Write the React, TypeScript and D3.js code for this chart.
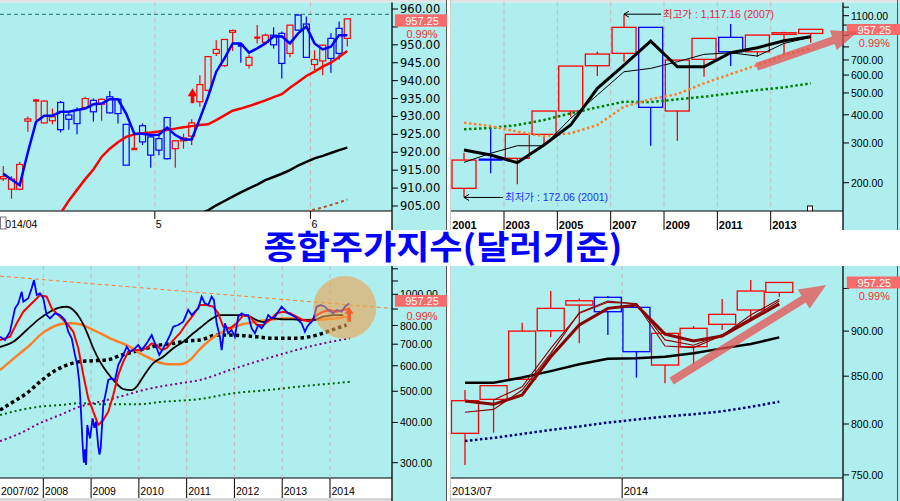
import React from 'react';
import * as d3 from 'd3';

const BG = '#afeeee';
const UP = '#ff0000';
const DN = '#0000ff';
const GRID = '#d0b2b2';
const FONT = "'Liberation Sans', Arial, sans-serif";
const WIDE = "'DejaVu Sans', Verdana, sans-serif";
const KFONT = "'Noto Sans CJK KR', 'Noto Sans', sans-serif";

// ---------- Panel A : daily 2014/04 - 2014/06 ----------
const dayOpen = [912.6, 909.7, 909.7, 928.7, 934.3, 928.2, 928.8, 933.9, 930.4, 931.7, 932.5, 934.5, 933.4, 935.5, 934.8, 927.8, 920.8, 927.4, 924.3, 923.8, 929.7, 921.0, 923.2, 924.5, 934.1, 937.3, 947.6, 944.2, 953.5, 950.0, 944.3, 951.9, 950.7, 952.7, 953.2, 947.6, 958.3, 955.8, 944.5, 945.5, 951.8, 954.6, 951.8];
const dayHigh = [916.2, 913.3, 917.3, 930.0, 934.7, 934.5, 932.2, 934.3, 931.3, 932.5, 935.5, 935.0, 935.0, 937.1, 935.0, 927.8, 925.0, 928.0, 924.8, 924.8, 929.7, 923.4, 925.2, 929.2, 941.5, 946.7, 951.3, 951.5, 954.3, 950.4, 947.2, 955.5, 953.1, 954.9, 953.7, 955.5, 958.5, 957.9, 948.5, 950.0, 953.2, 956.5, 957.25];
const dayLow = [912.0, 907.0, 909.4, 925.7, 929.0, 928.0, 927.8, 925.5, 926.3, 925.0, 932.2, 928.5, 928.8, 930.8, 928.0, 916.4, 920.8, 922.0, 915.7, 919.2, 918.0, 915.7, 921.0, 922.0, 932.7, 937.0, 946.9, 943.9, 948.3, 945.0, 943.4, 950.4, 950.4, 949.0, 940.6, 946.5, 954.0, 946.5, 943.0, 941.5, 942.2, 945.9, 949.5];
const dayClose = [913.2, 912.5, 916.6, 929.3, 934.6, 934.3, 929.9, 926.3, 929.2, 928.0, 935.0, 931.3, 934.8, 931.0, 930.8, 916.4, 921.0, 922.9, 919.2, 920.6, 918.2, 923.2, 924.0, 928.2, 938.9, 946.7, 948.7, 951.5, 954.0, 949.6, 946.5, 952.1, 952.7, 950.0, 944.8, 955.5, 954.1, 946.5, 945.9, 949.9, 946.2, 947.6, 957.25];
const dayMA5: (number | null)[] = [914.0, 912.4, 910.8, 920.0, 928.5, 930.2, 930.2, 931.3, 931.3, 931.8, 932.2, 933.4, 933.6, 934.8, 934.8, 930.8, 925.2, 925.2, 924.8, 924.9, 926.9, 924.8, 923.6, 923.6, 929.4, 935.5, 942.5, 946.2, 950.4, 950.4, 947.8, 949.0, 950.4, 952.3, 952.4, 950.4, 953.2, 955.1, 950.4, 948.7, 949.5, 952.7, 952.7];
const dayMA20: (number | null)[] = [null, null, null, null, null, null, null, 903.0, 906.5, 909.5, 912.5, 915.2, 918.7, 921.0, 922.8, 924.3, 925.0, 925.3, 925.5, 925.8, 926.2, 926.6, 927.0, 927.3, 927.6, 927.8, 929.0, 930.3, 931.6, 932.2, 932.9, 933.7, 934.5, 935.4, 936.2, 938.0, 939.6, 941.3, 942.5, 943.9, 945.0, 946.6, 948.3];
const dayMA60: (number | null)[] = [null, null, null, null, null, null, null, null, null, null, null, null, null, null, null, null, null, null, null, null, null, null, null, null, 902.8, 903.8, 905.2, 906.4, 907.6, 908.8, 909.9, 911.0, 912.2, 913.1, 914.0, 915.0, 916.3, 917.3, 918.3, 919.0, 919.8, 920.6, 921.3];
const dayMA120: (number | null)[] = [null, null, null, null, null, null, null, null, null, null, null, null, null, null, null, null, null, null, null, null, null, null, null, null, null, null, null, null, null, null, null, null, null, null, null, null, null, 903.5, 904.0, 904.6, 905.3, 906.0, 906.8];
const dayMonthLabels = ['5', '6'];
const dayMonthStarts = [18.5, 37.5];
const dayTicks = [905, 910, 915, 920, 925, 930, 935, 940, 945, 950, 955, 960];
const dayLabelTicks = [905, 910, 915, 920, 925, 930, 935, 940, 945, 950, 960];
const dayMaxLine = 958.5;
const daySignal = { at: 23.1, base: 933.7, tip: 937.9 };

// ---------- Panel B : yearly 2001 - 2014 ----------
const years = [2001, 2002, 2003, 2004, 2005, 2006, 2007, 2008, 2009, 2010, 2011, 2012, 2013, 2014];
const yearOpen = [188.9, 254, 256.5, 327.6, 415.7, 660, 749, 976.6, 415.7, 704.4, 881.8, 761, 908.9, 918];
const yearHigh = [271.6, 348.4, 327.6, 415.7, 657.8, 761, 1117.16, 976.6, 699.4, 872.5, 1010, 902.7, 934, 957.25];
const yearLow = [172.06, 220, 196.7, 293.8, 392.2, 594, 687.5, 291.7, 307, 590, 657.8, 723, 736, 834];
const yearClose = [252, 252, 327.6, 415.7, 657.8, 743.6, 976.6, 431.6, 699.4, 872.5, 761, 902.7, 924.3, 957.25];
const yearMAThick = [279.2, 265.3, 245.3, 293.8, 360.4, 524, 664.6, 849, 653.3, 653.3, 753.6, 793, 851.7, 887];
const yearMAThin = [246.3, 270, 291.7, 291.7, 385.8, 489.4, 620.8, 642.5, 687.5, 741.5, 753.6, 728.6, 829.3, 881.8];
const yearMAOrange = [368.8, 356.7, 336.5, 322, 331.1, 360.4, 434.4, 468.4, 494.4, 551.5, 606.3, 664.6, 736, 788];
const yearMAGreen = [344.9, 349.5, 360.4, 379.2, 406, 431.6, 457, 455, 468.4, 481, 497.9, 515, 529.5, 551.5];
const yearLabels = [2001, 2003, 2005, 2007, 2009, 2011, 2013];
const yearTicks = [200, 300, 400, 500, 600, 700, 800, 900, 1000, 1100, 1200];
const yearLabelTicks = [200, 300, 400, 500, 600, 700, 1100];
const yearHighNote = { year: 2007, value: 1117.16, text: '최고가 : 1,117.16 (2007)' };
const yearLowNote = { year: 2001, value: 172.06, text: '최저가 : 172.06 (2001)' };
const yearTrendArrow = { from: [2011.97, 653], to: [2015.77, 934] };

// ---------- Panel C : weekly 2007/02 - 2014/06 ----------
const wkPrice: [number, number][] = [[2007.094, 738], [2007.198, 721], [2007.303, 765], [2007.408, 904], [2007.477, 937], [2007.548, 1018], [2007.582, 948], [2007.686, 972], [2007.757, 1044], [2007.805, 1107], [2007.862, 995], [2007.931, 1007], [2008.0, 972], [2008.071, 862], [2008.14, 842], [2008.245, 873], [2008.349, 862], [2008.454, 832], [2008.523, 765], [2008.594, 730], [2008.663, 648], [2008.711, 603], [2008.753, 535], [2008.782, 453], [2008.824, 340], [2008.848, 300], [2008.872, 330], [2008.895, 295], [2008.921, 393], [2008.95, 372], [2008.977, 357], [2009.033, 412], [2009.07, 385], [2009.103, 402], [2009.151, 336], [2009.176, 318], [2009.201, 333], [2009.255, 453], [2009.312, 498], [2009.36, 542], [2009.431, 548], [2009.5, 542], [2009.569, 603], [2009.674, 648], [2009.745, 687], [2009.814, 663], [2009.883, 671], [2009.987, 696], [2010.059, 671], [2010.163, 704], [2010.268, 747], [2010.337, 704], [2010.427, 648], [2010.51, 680], [2010.582, 712], [2010.651, 747], [2010.72, 793], [2010.824, 803], [2010.929, 822], [2011.033, 894], [2011.105, 862], [2011.174, 883], [2011.243, 904], [2011.314, 983], [2011.383, 937], [2011.452, 926], [2011.523, 983], [2011.571, 960], [2011.628, 813], [2011.697, 738], [2011.732, 671], [2011.801, 813], [2011.87, 757], [2011.941, 775], [2012.01, 738], [2012.079, 852], [2012.151, 873], [2012.22, 862], [2012.289, 862], [2012.36, 784], [2012.429, 757], [2012.498, 803], [2012.569, 784], [2012.638, 813], [2012.707, 862], [2012.778, 842], [2012.847, 852], [2012.916, 883], [2012.987, 915], [2013.056, 894], [2013.123, 873], [2013.195, 862], [2013.264, 852], [2013.335, 832], [2013.406, 813], [2013.475, 765], [2013.523, 793], [2013.579, 813], [2013.649, 832], [2013.72, 915], [2013.803, 926], [2013.893, 915], [2013.962, 894], [2014.067, 873], [2014.138, 894], [2014.243, 883], [2014.312, 915], [2014.402, 937]];
const wkMA13: [number, number][] = [[2007.094, 721], [2007.303, 738], [2007.444, 813], [2007.582, 883], [2007.791, 948], [2007.931, 995], [2008.071, 983], [2008.176, 904], [2008.314, 862], [2008.49, 813], [2008.628, 765], [2008.732, 680], [2008.837, 562], [2008.941, 475], [2009.046, 432], [2009.151, 393], [2009.255, 407], [2009.36, 432], [2009.464, 487], [2009.569, 562], [2009.674, 618], [2009.778, 663], [2009.883, 671], [2010.023, 671], [2010.163, 680], [2010.268, 704], [2010.372, 696], [2010.477, 671], [2010.582, 680], [2010.72, 721], [2010.86, 757], [2011.0, 813], [2011.138, 862], [2011.278, 926], [2011.418, 926], [2011.556, 915], [2011.661, 873], [2011.766, 793], [2011.906, 784], [2012.046, 813], [2012.184, 862], [2012.324, 852], [2012.464, 803], [2012.603, 803], [2012.743, 832], [2012.883, 873], [2013.021, 883], [2013.161, 873], [2013.301, 852], [2013.439, 832], [2013.579, 822], [2013.72, 862], [2013.858, 883], [2013.998, 894], [2014.138, 883], [2014.276, 894], [2014.402, 904]];
const wkMA26: [number, number][] = [[2007.094, 686], [2007.372, 712], [2007.653, 775], [2007.931, 842], [2008.14, 883], [2008.314, 908], [2008.49, 915], [2008.628, 894], [2008.768, 842], [2008.908, 765], [2009.046, 680], [2009.186, 618], [2009.326, 575], [2009.5, 535], [2009.674, 508], [2009.849, 504], [2009.954, 517], [2010.092, 555], [2010.301, 611], [2010.51, 640], [2010.72, 680], [2010.929, 712], [2011.138, 757], [2011.278, 786], [2011.487, 832], [2011.697, 862], [2011.906, 862], [2012.115, 862], [2012.324, 852], [2012.464, 832], [2012.603, 820], [2012.812, 842], [2013.021, 836], [2013.23, 836], [2013.439, 832], [2013.649, 832], [2013.858, 852], [2014.067, 862], [2014.276, 862]];
const wkMA52: [number, number][] = [[2007.094, 582], [2007.303, 618], [2007.513, 656], [2007.722, 696], [2007.931, 747], [2008.14, 784], [2008.349, 807], [2008.559, 813], [2008.768, 807], [2008.977, 784], [2009.186, 757], [2009.395, 730], [2009.605, 709], [2009.814, 687], [2010.023, 656], [2010.232, 633], [2010.441, 613], [2010.651, 606], [2010.86, 606], [2011.069, 625], [2011.278, 676], [2011.487, 721], [2011.628, 747], [2011.837, 775], [2012.115, 803], [2012.464, 822], [2012.812, 836], [2013.161, 842], [2013.439, 832], [2013.649, 832], [2013.858, 836], [2014.138, 842], [2014.347, 852]];
const wkMA104: [number, number][] = [[2007.094, 437], [2007.372, 464], [2007.653, 493], [2007.931, 535], [2008.209, 575], [2008.49, 603], [2008.768, 618], [2009.046, 622], [2009.326, 625], [2009.605, 645], [2009.883, 663], [2010.163, 680], [2010.441, 696], [2010.72, 704], [2011.0, 716], [2011.278, 721], [2011.628, 747], [2011.906, 747], [2012.184, 744], [2012.464, 738], [2012.812, 730], [2013.161, 730], [2013.439, 733], [2013.72, 747], [2013.929, 765], [2014.138, 784], [2014.347, 803]];
const wkMA200: [number, number][] = [[2007.094, 350], [2007.513, 370], [2007.931, 398], [2008.349, 422], [2008.768, 448], [2009.186, 464], [2009.605, 481], [2010.023, 501], [2010.441, 517], [2010.86, 529], [2011.278, 542], [2011.906, 582], [2012.464, 618], [2013.161, 663], [2013.858, 704], [2014.416, 730]];
const wkMA300: [number, number][] = [[2007.094, 422], [2007.513, 437], [2007.931, 448], [2008.349, 453], [2008.768, 459], [2009.186, 456], [2009.605, 456], [2010.023, 456], [2010.441, 463], [2011.278, 473], [2011.975, 493], [2012.674, 504], [2013.372, 517], [2014.416, 535]];
const wkResistance: [number, number][] = [[2007.094, 1139], [2015.29, 904]];
const wkYears = [2008, 2009, 2010, 2011, 2012, 2013, 2014];
const wkTicks = [300, 400, 500, 600, 700, 800, 900, 1000, 1100, 1200];
const wkLabelTicks = [300, 400, 500, 600, 700, 800, 1000];
const wkHighlight = { t: 2014.31, v: 910 };
const wkSignal = { t: 2014.4, base: 822, tip: 915 };

// ---------- Panel D : monthly 2013/07 - 2014/06 ----------
const monOpen = [790.6, 825.4, 846.6, 900.4, 930.2, 939.4, 927.5, 862.1, 882.4, 907.8, 924.4, 945.3];
const monHigh = [835.2, 839.8, 909.6, 946.9, 938, 941, 927.5, 897.4, 905.8, 937.4, 960.2, 957.4];
const monLow = [759.5, 791.2, 846.6, 893, 886.2, 895.5, 848.4, 842.3, 862.9, 901.2, 914.8, 940];
const monClose = [824, 839.8, 900, 926.3, 935.3, 922.4, 876.8, 897.4, 903.2, 919.3, 946.9, 957.25];
const monMAThick = [823.7, 820.2, 830, 871.2, 907, 926.3, 930.2, 896.6, 888.7, 894.4, 912.7, 931.4];
const monMAThinA: (number | null)[] = [812, 815, 835.2, 875, 921.2, 935, 931.4, 883.2, 881.4, 895, 918.5, 937];
const monMAThinB: (number | null)[] = [null, 824.7, 838.7, 880.5, 920.5, 933.4, 932, 890, 884, 896, 914.8, 935];
const monMABlack = [843, 843, 848.5, 855.5, 863, 869, 869.5, 871.2, 875, 880.5, 885.4, 892.9];
const monMANavy = [783, 786, 790, 794, 797.5, 801.5, 804.5, 807.5, 810, 813, 817.5, 823];
const monTicks = [750, 800, 850, 900, 950];
const monLabelTicks = [750, 800, 850, 900];
const monYearStart = 5.5;
const monTrendArrow = { from: [7.23, 844.8], to: [12.64, 954] };

const lastPrice = '957.25';
const lastChange = '0.99%';

function candleMarks(key: string, open: number[], high: number[], low: number[], close: number[], xAt: (i: number) => number, y: (v: number) => number, w: number, sw: number) {
  return open.map((op, i) => {
    const cl = close[i];
    const col = cl >= op ? UP : DN;
    const cx = xAt(i);
    const top = y(Math.max(op, cl));
    const bot = y(Math.min(op, cl));
    const hi = y(high[i]);
    const lo = y(low[i]);
    const flat = bot - top < 1.5;
    return (
      <g key={key + i}>
        {hi < top - 0.3 && <line x1={cx} x2={cx} y1={hi} y2={top} stroke={col} strokeWidth={sw} />}
        {lo > bot + 0.3 && <line x1={cx} x2={cx} y1={bot} y2={lo} stroke={col} strokeWidth={sw} />}
        {flat ? (
          <line x1={cx - w / 2} x2={cx + w / 2} y1={(top + bot) / 2} y2={(top + bot) / 2} stroke={col} strokeWidth={2.4} />
        ) : (
          <rect x={cx - w / 2} y={top} width={w} height={bot - top} fill="none" stroke={col} strokeWidth={sw} />
        )}
      </g>
    );
  });
}

function RightAxis({ x, y, ticks, labels, size, family, y1, y2 }: { x: number; y: (v: number) => number; ticks: number[]; labels: number[]; size: number; family: string; y1: number; y2: number }) {
  return (
    <g>
      <line x1={x} x2={x} y1={y1} y2={y2} stroke="#000" strokeWidth={1.3} />
      {ticks.map((t) => (
        <line key={'t' + t} x1={x} x2={x + 6} y1={y(t)} y2={y(t)} stroke="#000" strokeWidth={1} />
      ))}
      {labels.map((t) => (
        <text key={'l' + t} x={x + 8} y={y(t)} dominantBaseline="central" fontSize={size} fontFamily={family} fill="#000">
          {t.toFixed(2)}
        </text>
      ))}
    </g>
  );
}

function PriceTag({ x, w, yTop, h, pctY }: { x: number; w: number; yTop: number; h: number; pctY: number }) {
  return (
    <g>
      <rect x={x} y={yTop} width={w} height={h} fill="#f76b6b" />
      <text x={x + w / 2 + 1} y={yTop + h / 2 + 0.5} textAnchor="middle" dominantBaseline="central" fontSize={11} fontFamily={FONT} fill="#fff">
        {lastPrice}
      </text>
      <text x={x + w / 2 + 1} y={pctY} textAnchor="middle" dominantBaseline="central" fontSize={11} fontFamily={FONT} fill="#ff2a2a">
        {lastChange}
      </text>
    </g>
  );
}

function arrowPoly(x1: number, y1: number, x2: number, y2: number, sh: number, hl: number, hh: number) {
  const dx = x2 - x1, dy = y2 - y1;
  const L = Math.hypot(dx, dy);
  const ux = dx / L, uy = dy / L;
  const px = -uy, py = ux;
  const bx = x2 - ux * hl, by = y2 - uy * hl;
  const pts = [
    [x1 + px * sh, y1 + py * sh],
    [bx + px * sh, by + py * sh],
    [bx + px * hh, by + py * hh],
    [x2, y2],
    [bx - px * hh, by - py * hh],
    [bx - px * sh, by - py * sh],
    [x1 - px * sh, y1 - py * sh],
  ];
  return pts.map((p) => p[0].toFixed(1) + ',' + p[1].toFixed(1)).join(' ');
}

function upArrowPath(cx: number, tip: number, base: number, hw: number, hh: number, sw: number) {
  return `M${cx},${tip} L${cx + hw},${tip + hh} L${cx + sw},${tip + hh} L${cx + sw},${base} L${cx - sw},${base} L${cx - sw},${tip + hh} L${cx - hw},${tip + hh} Z`;
}

export default function App() {
  // ---- scales ----
  const xA = d3.scaleLinear().domain([0, 42]).range([3.3, 347.3]);
  const yA = d3.scaleLinear().domain([905, 960]).range([206, 9]);

  const xB = d3.scaleLinear().domain([2001, 2014]).range([464, 810.7]);
  const yB = d3.scaleLog().domain([200, 1100]).range([182.7, 15.7]);

  const xC = d3.scaleLinear().domain([2008, 2014]).range([43.3, 330]);
  const yC = d3.scaleLog().domain([300, 1000]).range([462.7, 294.3]);

  const xD = d3.scaleLinear().domain([0, 11]).range([465, 779.3]);
  const yD = d3.scaleLog().domain([800, 900]).range([424, 331.1]);

  const lineA = d3.line<number | null>().defined((d) => d != null).x((_, i) => xA(i)).y((d) => yA(d as number));
  const lineB = d3.line<number>().x((_, i) => xB(years[i])).y((d) => yB(d));
  const lineC = d3.line<[number, number]>().x((d) => xC(d[0])).y((d) => yC(d[1]));
  const lineCs = d3.line<[number, number]>().x((d) => xC(d[0])).y((d) => yC(d[1])).curve(d3.curveMonotoneX);
  const lineD = d3.line<number | null>().defined((d) => d != null).x((_, i) => xD(i)).y((d) => yD(d as number));

  const hiX = xB(yearHighNote.year), hiY = yB(yearHighNote.value);
  const loX = xB(yearLowNote.year), loY = yB(yearLowNote.value);

  return (
    <div style={{ position: 'absolute', left: 0, top: 0 }}>
      <svg width={900} height={501} viewBox="0 0 900 501" style={{ display: 'block' }}>
        <defs>
          <clipPath id="clipA"><rect x={0} y={2.5} width={392} height={208.5} /></clipPath>
          <clipPath id="clipB"><rect x={451} y={2.5} width={392} height={208.5} /></clipPath>
          <clipPath id="clipC"><rect x={0} y={266} width={392} height={212} /></clipPath>
          <clipPath id="clipD"><rect x={451} y={266} width={392} height={212} /></clipPath>
        </defs>
        <rect x={0} y={0} width={900} height={501} fill="#fff" />

        {/* ================= Panel A ================= */}
        <rect x={0} y={0} width={447} height={2.5} fill="#e2e2e2" />
        <rect x={0} y={2.5} width={447} height={227.5} fill={BG} />
        <rect x={0} y={211} width={392} height={19} fill="#fff" />
        <line x1={0} x2={392} y1={211} y2={211} stroke="#000" strokeWidth={1.2} />
        <line x1={446.5} x2={446.5} y1={0} y2={230} stroke="#555" strokeWidth={1} />
        <g clipPath="url(#clipA)">
          {dayMonthStarts.map((m) => (
            <line key={'ga' + m} x1={xA(m)} x2={xA(m)} y1={2.5} y2={211} stroke={GRID} strokeDasharray="4,4" />
          ))}
          <line x1={0} x2={392} y1={yA(dayMaxLine)} y2={yA(dayMaxLine)} stroke="#3b8c8c" strokeWidth={1.2} strokeDasharray="4,3" />
          {candleMarks('a', dayOpen, dayHigh, dayLow, dayClose, (i) => xA(i), yA, 6, 1.2)}
          <path d={lineA(dayMA120) || ''} fill="none" stroke="#b0502a" strokeWidth={2} strokeDasharray="3,3" />
          <path d={lineA(dayMA60) || ''} fill="none" stroke="#000" strokeWidth={2.5} />
          <path d={lineA(dayMA20) || ''} fill="none" stroke="#ff0000" strokeWidth={2.5} />
          <path d={lineA(dayMA5) || ''} fill="none" stroke="#0000ff" strokeWidth={2.5} />
          <path d={upArrowPath(xA(daySignal.at), yA(daySignal.tip), yA(daySignal.base), 4.8, 8, 1.8)} fill="#ff0000" />
        </g>
        {dayMonthStarts.map((m, i) => (
          <g key={'xa' + m}>
            <line x1={xA(m)} x2={xA(m)} y1={211} y2={219} stroke="#000" />
            <text x={xA(m) + 1} y={228.3} fontSize={10.5} fontFamily={FONT} fill="#000">{dayMonthLabels[i]}</text>
          </g>
        ))}
        <text x={-0.5} y={228.3} fontSize={10.5} fontFamily={FONT} fill="#000">2014/04</text>
        <rect x={0.5} y={217} width={5.5} height={12} fill="#fff" stroke="#777" strokeWidth={1} />
        <RightAxis x={392} y={yA} ticks={dayTicks} labels={dayLabelTicks} size={11.5} family={WIDE} y1={2.5} y2={230} />
        <PriceTag x={395} w={52} yTop={14.3} h={12.4} pctY={33.7} />

        {/* ================= Panel B ================= */}
        <rect x={450} y={0} width={450} height={2.5} fill="#e2e2e2" />
        <rect x={450} y={2.5} width={450} height={227.5} fill={BG} />
        <rect x={450} y={211} width={393} height={19} fill="#fff" />
        <line x1={450} x2={843} y1={211} y2={211} stroke="#000" strokeWidth={1.2} />
        <line x1={450.5} x2={450.5} y1={0} y2={230} stroke="#ccc" strokeWidth={1} />
        <line x1={897.5} x2={897.5} y1={0} y2={230} stroke="#555" strokeWidth={1} />
        <g clipPath="url(#clipB)">
          {yearLabels.slice(1).map((yr) => (
            <line key={'gb' + yr} x1={xB(yr - 0.5)} x2={xB(yr - 0.5)} y1={2.5} y2={211} stroke={GRID} strokeDasharray="4,4" />
          ))}
          {candleMarks('b', yearOpen, yearHigh, yearLow, yearClose, (i) => xB(years[i]), yB, 24, 1.3)}
          <path d={lineB(yearMAGreen) || ''} fill="none" stroke="#008000" strokeWidth={2.5} strokeDasharray="2.5,2.5" />
          <path d={lineB(yearMAOrange) || ''} fill="none" stroke="#ff7f27" strokeWidth={2.5} strokeDasharray="2.5,2.5" />
          <path d={lineB(yearMAThin) || ''} fill="none" stroke="#000" strokeWidth={1} />
          <path d={lineB(yearMAThick) || ''} fill="none" stroke="#000" strokeWidth={3} />
          <rect x={807.5} y={206} width={5} height={5} fill="#fff" stroke="#000" strokeWidth={1} />
        </g>
        {/* annotations */}
        <line x1={hiX} x2={hiX + 37} y1={hiY} y2={hiY} stroke="#000" strokeWidth={1} />
        <polyline points={`${hiX + 5},${hiY - 3} ${hiX},${hiY} ${hiX + 5},${hiY + 3}`} fill="none" stroke="#000" strokeWidth={1} />
        <text x={hiX + 39} y={hiY} dominantBaseline="central" fontSize={10.5} fontFamily={`'Liberation Sans', ${KFONT}`} fill="#e8203c">{yearHighNote.text}</text>
        <line x1={loX} x2={loX + 39} y1={loY} y2={loY} stroke="#000" strokeWidth={1} />
        <polyline points={`${loX + 5},${loY - 3} ${loX},${loY} ${loX + 5},${loY + 3}`} fill="none" stroke="#000" strokeWidth={1} />
        <text x={loX + 41} y={loY} dominantBaseline="central" fontSize={10.5} fontFamily={`'Liberation Sans', ${KFONT}`} fill="#2030ff">{yearLowNote.text}</text>
        {yearLabels.map((yr, i) => (
          <g key={'xb' + yr}>
            {i > 0 && <line x1={xB(yr - 0.5)} x2={xB(yr - 0.5)} y1={211} y2={230} stroke="#000" />}
            <text x={xB(yr - 0.5) + 1.5} y={229} fontSize={11} fontWeight="bold" fontFamily={FONT} fill="#000">{yr}</text>
          </g>
        ))}
        <RightAxis x={843} y={yB} ticks={yearTicks} labels={yearLabelTicks} size={10.5} family={FONT} y1={2.5} y2={230} />
        <PriceTag x={846.7} w={53.3} yTop={24} h={11} pctY={42.7} />
        <polygon points={arrowPoly(xB(yearTrendArrow.from[0]), yB(yearTrendArrow.from[1]), xB(yearTrendArrow.to[0]), yB(yearTrendArrow.to[1]), 4, 26, 10.5)} fill="rgb(232,80,80)" fillOpacity={0.75} />

        {/* ================= Title ================= */}
        <text x={443} y={258.5} textAnchor="middle" fontSize={33} fontWeight="bold" fontFamily={KFONT} fill="#0000ff" textLength={359} lengthAdjust="spacingAndGlyphs">
          종합주가지수(달러기준)
        </text>

        {/* ================= Panel C ================= */}
        <rect x={0} y={266} width={447} height={235} fill={BG} />
        <rect x={0} y={478} width={392} height={20} fill="#fff" />
        <rect x={0} y={498} width={392} height={3} fill="#d6d6d6" />
        <line x1={0} x2={392} y1={478} y2={478} stroke="#000" strokeWidth={1.2} />
        <line x1={446.5} x2={446.5} y1={266} y2={501} stroke="#555" strokeWidth={1} />
        <g clipPath="url(#clipC)">
          {wkYears.map((yr) => (
            <line key={'gc' + yr} x1={xC(yr)} x2={xC(yr)} y1={266} y2={478} stroke={GRID} strokeDasharray="4,4" />
          ))}
          <path d={lineC(wkResistance) || ''} fill="none" stroke="#ff7f27" strokeWidth={1} strokeDasharray="4,3" />
          <path d={lineCs(wkMA300) || ''} fill="none" stroke="#006400" strokeWidth={2} strokeDasharray="2,3" />
          <path d={lineCs(wkMA200) || ''} fill="none" stroke="#800080" strokeWidth={2} strokeDasharray="2,3" />
          <path d={lineCs(wkMA104) || ''} fill="none" stroke="#000" strokeWidth={3.5} strokeDasharray="3.5,3" />
          <path d={lineCs(wkMA52) || ''} fill="none" stroke="#ff7f27" strokeWidth={2.5} />
          <path d={lineCs(wkMA26) || ''} fill="none" stroke="#000" strokeWidth={1.8} />
          <path d={lineC(wkMA13) || ''} fill="none" stroke="#ff0000" strokeWidth={2} />
          <path d={lineC(wkPrice) || ''} fill="none" stroke="#0000ff" strokeWidth={1.8} />
          <path d={upArrowPath(xC(wkSignal.t), yC(wkSignal.tip), yC(wkSignal.base), 4.5, 7, 1.8)} fill="#ff0000" />
          <circle cx={xC(wkHighlight.t)} cy={yC(wkHighlight.v)} r={31.5} fill="rgb(237,161,75)" fillOpacity={0.6} />
        </g>
        <text x={1} y={495} fontSize={10.5} fontFamily={FONT} fill="#000">2007/02</text>
        {wkYears.map((yr) => (
          <g key={'xc' + yr}>
            <line x1={xC(yr)} x2={xC(yr)} y1={478} y2={498} stroke="#000" />
            <text x={xC(yr) + 1.5} y={495} fontSize={10.5} fontFamily={FONT} fill="#000">{yr}</text>
          </g>
        ))}
        <RightAxis x={392} y={yC} ticks={wkTicks} labels={wkLabelTicks} size={10.5} family={FONT} y1={266} y2={501} />
        <PriceTag x={395} w={52} yTop={295} h={11.7} pctY={316} />

        {/* ================= Panel D ================= */}
        <rect x={450} y={266} width={450} height={235} fill={BG} />
        <rect x={450} y={478} width={393} height={20} fill="#fff" />
        <rect x={450} y={498} width={393} height={3} fill="#d6d6d6" />
        <line x1={450} x2={843} y1={478} y2={478} stroke="#000" strokeWidth={1.2} />
        <line x1={450.5} x2={450.5} y1={266} y2={501} stroke="#ccc" strokeWidth={1} />
        <line x1={897.5} x2={897.5} y1={266} y2={501} stroke="#555" strokeWidth={1} />
        <g clipPath="url(#clipD)">
          <line x1={xD(monYearStart)} x2={xD(monYearStart)} y1={266} y2={478} stroke={GRID} strokeDasharray="4,4" />
          {candleMarks('d', monOpen, monHigh, monLow, monClose, (i) => xD(i), yD, 27, 1.3)}
          <path d={lineD(monMANavy) || ''} fill="none" stroke="#000080" strokeWidth={2.5} strokeDasharray="2.5,2.5" />
          <path d={lineD(monMABlack) || ''} fill="none" stroke="#000" strokeWidth={2.5} />
          <path d={lineD(monMAThinA) || ''} fill="none" stroke="#8b0000" strokeWidth={1.1} />
          <path d={lineD(monMAThinB) || ''} fill="none" stroke="#8b0000" strokeWidth={1.1} />
          <path d={lineD(monMAThick) || ''} fill="none" stroke="#8b0000" strokeWidth={3} />
          <polygon points={arrowPoly(xD(monTrendArrow.from[0]), yD(monTrendArrow.from[1]), xD(monTrendArrow.to[0]), yD(monTrendArrow.to[1]), 4, 26.5, 11.3)} fill="rgb(232,80,80)" fillOpacity={0.75} />
        </g>
        <text x={452} y={495} fontSize={11} fontFamily={FONT} fill="#000">2013/07</text>
        <line x1={xD(monYearStart)} x2={xD(monYearStart)} y1={478} y2={498} stroke="#000" />
        <text x={xD(monYearStart) + 1.5} y={495} fontSize={11} fontFamily={FONT} fill="#000">2014</text>
        <RightAxis x={843} y={yD} ticks={monTicks} labels={monLabelTicks} size={10.5} family={FONT} y1={266} y2={501} />
        <PriceTag x={846.7} w={53.3} yTop={276.5} h={12} pctY={296} />
      </svg>
    </div>
  );
}
